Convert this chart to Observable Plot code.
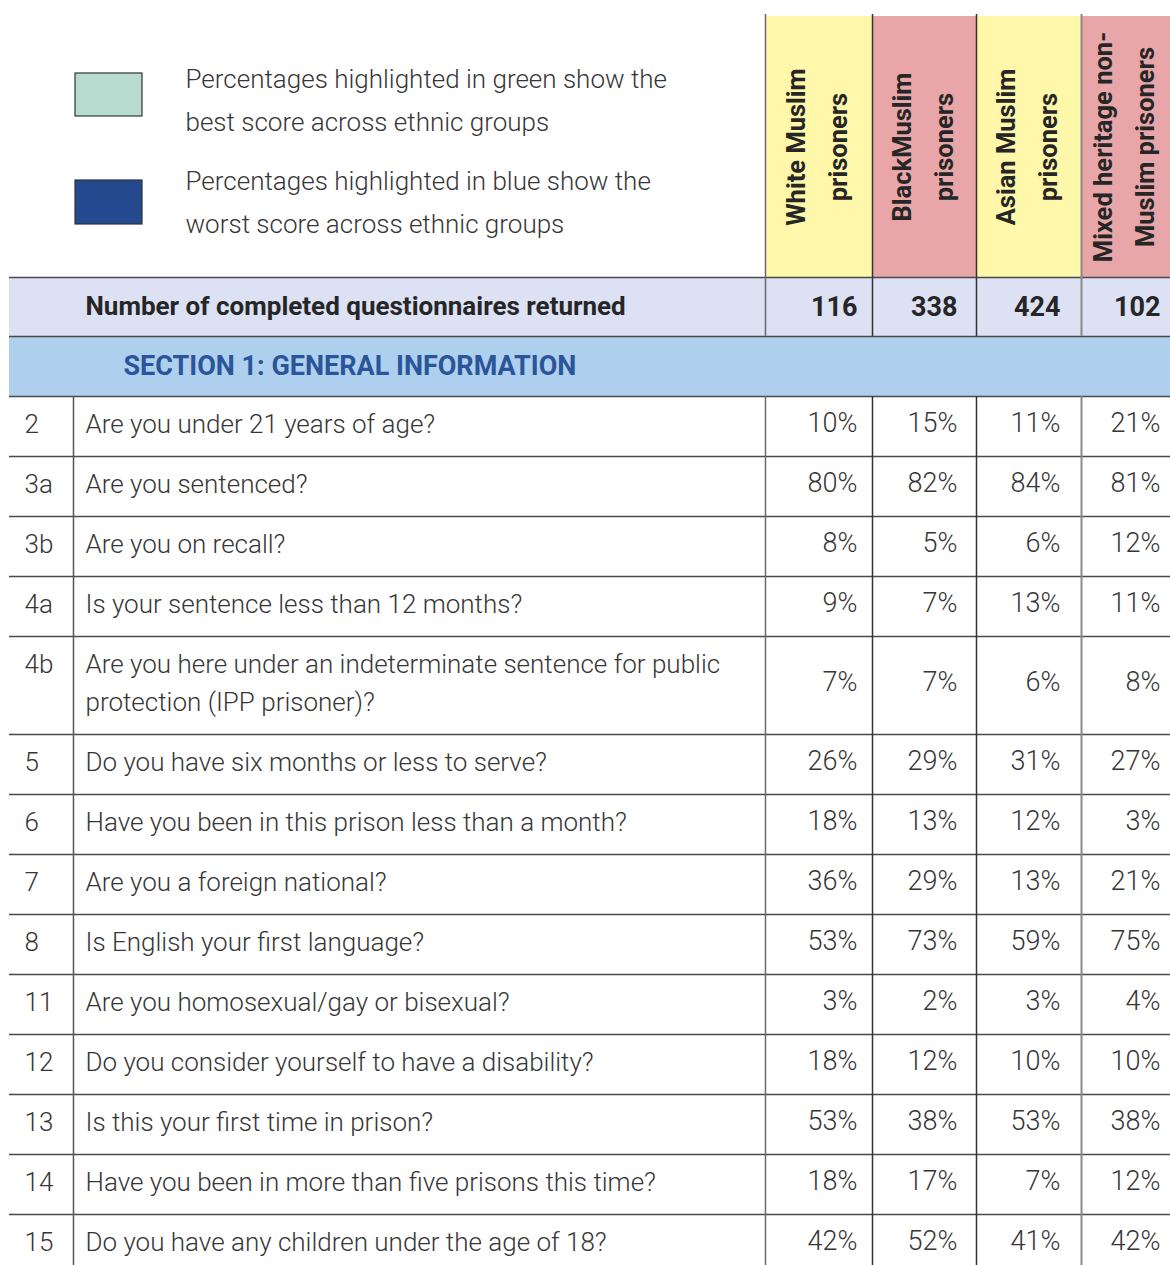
<!DOCTYPE html>
<html>
<head>
<meta charset="utf-8">
<script src="https://cdn.jsdelivr.net/npm/d3@7"></script>
<script src="https://cdn.jsdelivr.net/npm/@observablehq/plot@0.6"></script>
<style>
  html, body { margin: 0; padding: 0; background: #fff; }
</style>
</head>
<body>
<div id="chart"></div>
<script>
// ---------- DATA ----------
const groupLabels = [
  "White Muslim\nprisoners",
  "BlackMuslim\nprisoners",
  "Asian Muslim\nprisoners",
  "Mixed heritage non-\nMuslim prisoners"
];
const questionnairesReturned = [116, 338, 424, 102];
const countLabel = "Number of completed questionnaires returned";
const sectionTitle = "SECTION 1: GENERAL INFORMATION";
const legendLabels = [
  "Percentages highlighted in green show the\nbest score across ethnic groups",
  "Percentages highlighted in blue show the\nworst score across ethnic groups"
];
const questionNumbers = ["2", "3a", "3b", "4a", "4b", "5", "6", "7", "8", "11", "12", "13", "14", "15"];
const questions = [
  "Are you under 21 years of age?",
  "Are you sentenced?",
  "Are you on recall?",
  "Is your sentence less than 12 months?",
  "Are you here under an indeterminate sentence for public\nprotection (IPP prisoner)?",
  "Do you have six months or less to serve?",
  "Have you been in this prison less than a month?",
  "Are you a foreign national?",
  "Is English your first language?",
  "Are you homosexual/gay or bisexual?",
  "Do you consider yourself to have a disability?",
  "Is this your first time in prison?",
  "Have you been in more than five prisons this time?",
  "Do you have any children under the age of 18?"
];
const whiteMuslim = [10, 80, 8, 9, 7, 26, 18, 36, 53, 3, 18, 53, 18, 42];
const blackMuslim = [15, 82, 5, 7, 7, 29, 13, 29, 73, 2, 12, 38, 17, 52];
const asianMuslim = [11, 84, 6, 13, 6, 31, 12, 13, 59, 3, 10, 53, 7, 41];
const mixedNonMuslim = [21, 81, 12, 11, 8, 27, 3, 21, 75, 4, 10, 38, 12, 42];

// ---------- LAYOUT / STYLE ----------
const W = 1170, H = 1265;
const colEdges = [765, 872, 976, 1081, 1170];
const valueRight = [857, 957, 1060, 1160];
const tableLeft = 9, numDivider = 73, numX = 24, questionX = 85;
const headerTop = 16, headerBottom = 277, countBottom = 336, sectionBottom = 396;
const rowH = 60, extraLineH = 38, firstLineOffset = 28;
const headerLineGap = 42, legendLineGap = 43;
const headerFills = ["#FFF8AA", "#E9A6A9"];
const textColor = "#363636";
const darkText = "#262626";
const lineColor = "#4a4a4a";

const series = [whiteMuslim, blackMuslim, asianMuslim, mixedNonMuslim];

// rows
const rows = [];
const questionLines = [];
let yCursor = sectionBottom;
questions.forEach((q, i) => {
  const lines = q.split("\n");
  const h = rowH + (lines.length - 1) * extraLineH;
  const yFirst = yCursor + firstLineOffset;
  rows.push({num: questionNumbers[i], y1: yCursor, y2: yCursor + h, yc: yCursor + h / 2 - 3, yFirst});
  lines.forEach((t, k) => questionLines.push({text: t, y: yFirst + k * extraLineH}));
  yCursor += h;
});
const tableBottom = yCursor;

const cells = [];
rows.forEach((r, i) => {
  series.forEach((s, g) => {
    cells.push({x: valueRight[g], y: r.yc, label: s[i] + "%"});
  });
});

const headers = groupLabels.map((label, g) => ({
  x1: colEdges[g], x2: colEdges[g + 1], fill: headerFills[g % 2]
}));
const headerLines = [];
groupLabels.forEach((label, g) => {
  const lines = label.split("\n");
  const xc = (colEdges[g] + colEdges[g + 1]) / 2 - 1;
  lines.forEach((t, k) => headerLines.push({text: t, x: xc + (k - (lines.length - 1) / 2) * headerLineGap}));
});

const counts = questionnairesReturned.map((n, g) => ({x: valueRight[g], y: (headerBottom + countBottom) / 2, label: String(n)}));

const legend = [
  {fill: "#B7DCCF", y1: 73, y2: 116, ty: 79},
  {fill: "#234A8E", y1: 180, y2: 224, ty: 181}
];
const legendLines = [];
legendLabels.forEach((label, i) => {
  label.split("\n").forEach((t, k) => legendLines.push({text: t, y: legend[i].ty + k * legendLineGap}));
});

const hLines = [headerBottom, countBottom, sectionBottom, ...rows.map(r => r.y2)];

const vColumns = [
  {x: colEdges[0], stroke: "#6a6a6a", w: 1.5},
  {x: colEdges[1], stroke: "#333", w: 1.5},
  {x: colEdges[2], stroke: "#333", w: 1.5},
  {x: colEdges[3], stroke: "#8a8a8a", w: 2}
];
const vLines = [
  {x: numDivider, y1: sectionBottom, y2: tableBottom, stroke: "#555", w: 1.5},
  ...vColumns.map(c => ({...c, y1: headerTop - 2, y2: countBottom})),
  ...vColumns.map(c => ({...c, y1: sectionBottom, y2: tableBottom}))
];

const chart = Plot.plot({
  width: W,
  height: H,
  margin: 0,
  x: {domain: [0, W], range: [0, W], axis: null},
  y: {domain: [0, H], range: [0, H], axis: null},
  style: {fontFamily: "Roboto", background: "#fff", color: textColor},
  marks: [
    // header column fills
    Plot.rect(headers, {x1: "x1", x2: "x2", y1: () => headerTop, y2: () => headerBottom, fill: "fill"}),
    // count row + section row
    Plot.rect([0], {x1: () => tableLeft, x2: () => W, y1: () => headerBottom, y2: () => countBottom, fill: "#DCE1F3"}),
    Plot.rect([0], {x1: () => tableLeft, x2: () => W, y1: () => countBottom, y2: () => sectionBottom, fill: "#AECFEE"}),
    // legend boxes
    Plot.rect(legend, {x1: () => 75, x2: () => 142, y1: "y1", y2: "y2", fill: "fill", stroke: "#333", strokeWidth: 1.2}),
    Plot.text(legendLines, {x: () => 185, y: "y", text: "text", textAnchor: "start", fontSize: 26, fontWeight: 300, fill: textColor}),
    // lines
    Plot.ruleY(hLines, {y: d => d, x1: () => tableLeft, x2: () => W, stroke: lineColor, strokeWidth: 1.5}),
    Plot.ruleX(vLines, {x: "x", y1: "y1", y2: "y2", stroke: "stroke", strokeWidth: "w"}),
    // header labels
    Plot.text(headerLines, {x: "x", y: () => (headerTop + headerBottom) / 2, text: "text", rotate: -90, textAnchor: "middle", fontSize: 25.5, fontWeight: "bold", fill: darkText}),
    // count row
    Plot.text([countLabel], {x: () => questionX, y: () => (headerBottom + countBottom) / 2, text: d => d, textAnchor: "start", fontSize: 26, fontWeight: "bold", fill: darkText}),
    Plot.text(counts, {x: "x", y: "y", text: "label", textAnchor: "end", fontSize: 27, fontWeight: "bold", fill: darkText}),
    // section title
    Plot.text([sectionTitle], {x: () => 123, y: () => (countBottom + sectionBottom) / 2, text: d => d, textAnchor: "start", fontSize: 27, fontWeight: "bold", fill: "#2A5598"}),
    // question rows
    Plot.text(rows, {x: () => numX, y: "yFirst", text: "num", textAnchor: "start", fontSize: 26, fontWeight: 300, fill: textColor}),
    Plot.text(questionLines, {x: () => questionX, y: "y", text: "text", textAnchor: "start", fontSize: 26, fontWeight: 300, fill: textColor}),
    Plot.text(cells, {x: "x", y: "y", text: "label", textAnchor: "end", fontSize: 27, fontWeight: 300, fill: textColor})
  ]
});

document.getElementById("chart").appendChild(chart);
</script>
</body>
</html>
